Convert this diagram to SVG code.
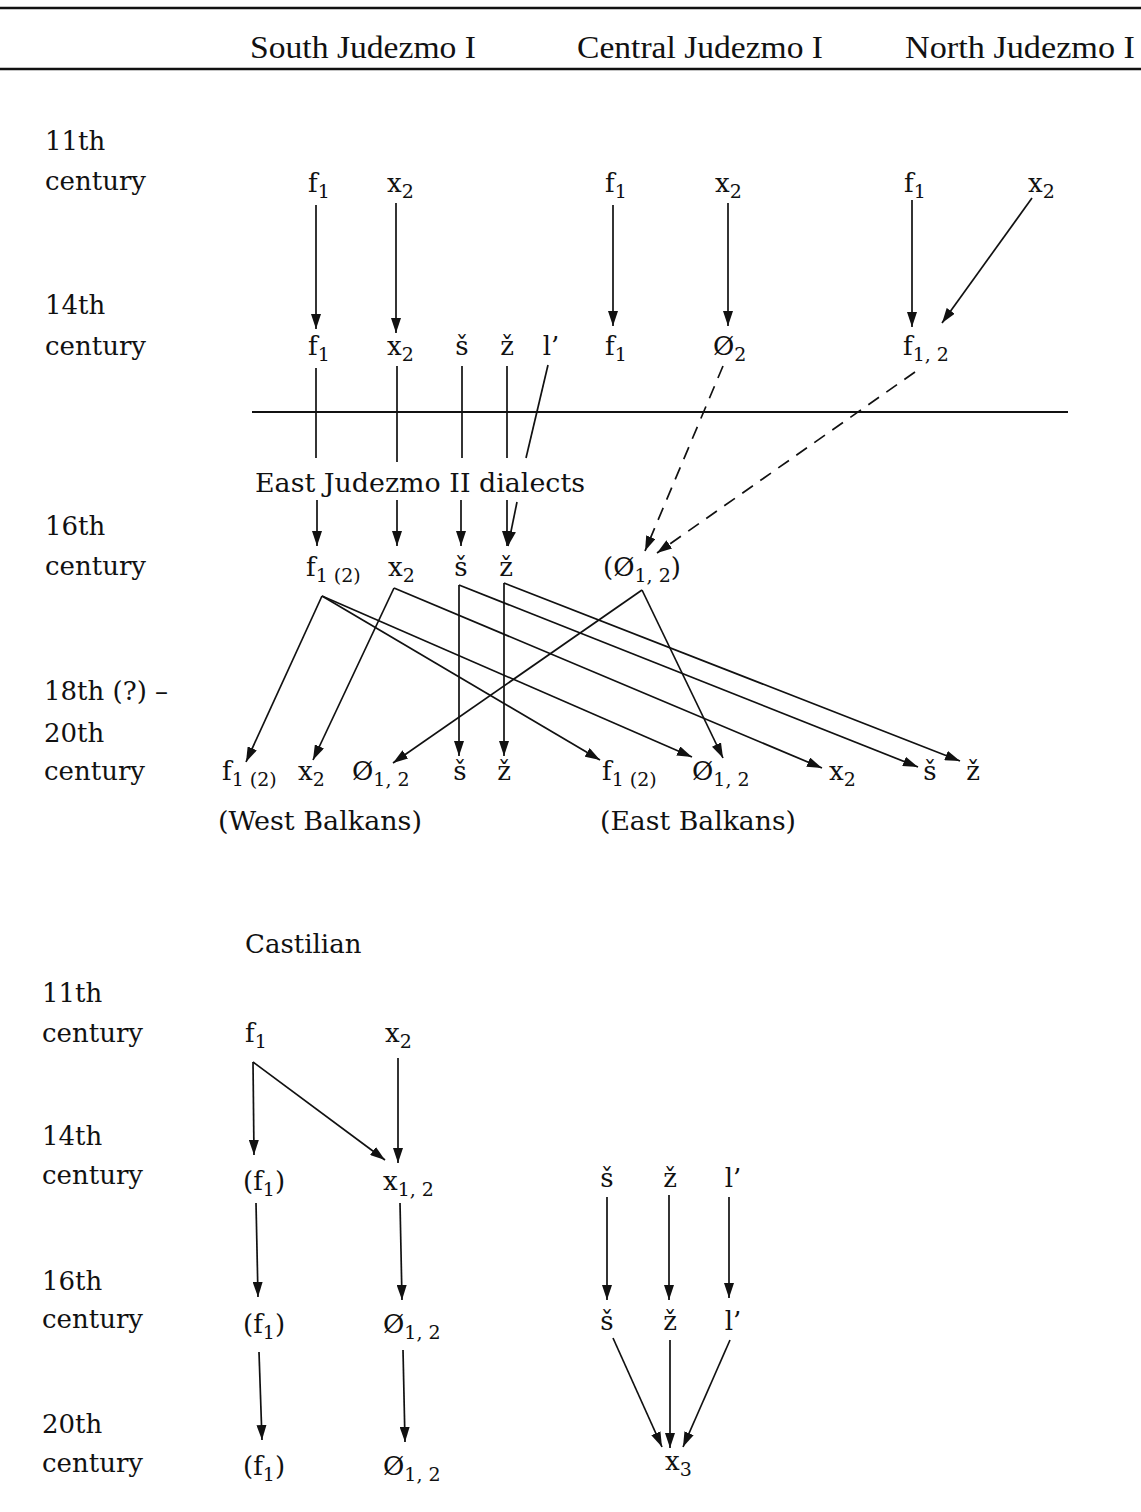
<svg xmlns="http://www.w3.org/2000/svg" width="1141" height="1512" viewBox="0 0 1141 1512">
<style>
.t{font-family:"DejaVu Serif","Liberation Serif",serif;font-size:26px;fill:#111}
.h{font-family:"Liberation Serif",serif;font-size:32px;fill:#111}
.s{font-size:19px}
.m{text-anchor:middle}
.c line{stroke:#111;stroke-width:1.7;fill:none}
.c .a{marker-end:url(#ah)}
.c .d{stroke-dasharray:13 9}
.rule{stroke:#111;stroke-width:2.5}
</style>
<defs>
<marker id="ah" markerUnits="userSpaceOnUse" markerWidth="15" markerHeight="10" refX="15" refY="5" orient="auto">
<path d="M0,0 L15,5 L0,10 z" fill="#111"/>
</marker>
</defs>
<rect width="1141" height="1512" fill="#fff"/>
<line class="rule" x1="0" y1="8" x2="1141" y2="8"/>
<line class="rule" x1="0" y1="69" x2="1141" y2="69"/>
<g id="headers">
<text class="h" x="250" y="58" textLength="226" lengthAdjust="spacingAndGlyphs">South Judezmo I</text>
<text class="h" x="577" y="58" textLength="246" lengthAdjust="spacingAndGlyphs">Central Judezmo I</text>
<text class="h" x="905" y="58" textLength="230" lengthAdjust="spacingAndGlyphs">North Judezmo I</text>
</g>
<g id="periods">
<text class="t" x="45" y="150">11th</text><text class="t" x="45" y="190">century</text>
<text class="t" x="45" y="314">14th</text><text class="t" x="45" y="355">century</text>
<text class="t" x="45" y="535">16th</text><text class="t" x="45" y="575">century</text>
<text class="t" x="44" y="700">18th (?) –</text><text class="t" x="44" y="742">20th</text><text class="t" x="44" y="780">century</text>
<text class="t" x="42" y="1002">11th</text><text class="t" x="42" y="1042">century</text>
<text class="t" x="42" y="1145">14th</text><text class="t" x="42" y="1184">century</text>
<text class="t" x="42" y="1290">16th</text><text class="t" x="42" y="1328">century</text>
<text class="t" x="42" y="1433">20th</text><text class="t" x="42" y="1472">century</text>
</g>
<line x1="252" y1="412" x2="1068" y2="412" stroke="#111" stroke-width="2"/>
<g class="c" id="connectors">
<line class="a" x1="316" y1="205" x2="316" y2="329"/>
<line class="a" x1="396" y1="203" x2="396" y2="333"/>
<line class="a" x1="613" y1="205" x2="613" y2="326"/>
<line class="a" x1="728" y1="203" x2="728" y2="326"/>
<line class="a" x1="912" y1="200" x2="912" y2="327"/>
<line class="a" x1="1032" y1="198" x2="942" y2="323"/>
<line x1="316" y1="368" x2="316" y2="458"/>
<line x1="397" y1="366" x2="397" y2="462"/>
<line x1="462" y1="366" x2="462" y2="458"/>
<line x1="507" y1="366" x2="507" y2="458"/>
<line x1="548" y1="365" x2="526" y2="458"/>
<line class="a d" x1="723" y1="366" x2="645" y2="551"/>
<line class="a d" x1="915" y1="372" x2="657" y2="553"/>
<line class="a" x1="317" y1="500" x2="317" y2="546"/>
<line class="a" x1="397" y1="500" x2="397" y2="546"/>
<line class="a" x1="461" y1="500" x2="461" y2="546"/>
<line class="a" x1="507" y1="500" x2="507" y2="546"/>
<line class="a" x1="517" y1="502" x2="508" y2="546"/>
<line class="a" x1="322" y1="596" x2="246" y2="762"/>
<line class="a" x1="322" y1="596" x2="600" y2="760"/>
<line class="a" x1="322" y1="596" x2="692" y2="757"/>
<line class="a" x1="394" y1="588" x2="313" y2="760"/>
<line class="a" x1="394" y1="588" x2="822" y2="768"/>
<line class="a" x1="459" y1="585" x2="459" y2="756"/>
<line class="a" x1="459" y1="585" x2="918" y2="767"/>
<line class="a" x1="504" y1="583" x2="504" y2="756"/>
<line class="a" x1="504" y1="583" x2="960" y2="761"/>
<line class="a" x1="642" y1="590" x2="393" y2="763"/>
<line class="a" x1="642" y1="590" x2="723" y2="758"/>
<line class="a" x1="253" y1="1062" x2="254" y2="1155"/>
<line class="a" x1="253" y1="1062" x2="385" y2="1160"/>
<line class="a" x1="398" y1="1058" x2="398" y2="1163"/>
<line class="a" x1="256" y1="1203" x2="258" y2="1297"/>
<line class="a" x1="400" y1="1203" x2="402" y2="1300"/>
<line class="a" x1="259" y1="1352" x2="262" y2="1440"/>
<line class="a" x1="403" y1="1350" x2="405" y2="1442"/>
<line class="a" x1="607" y1="1197" x2="607" y2="1300"/>
<line class="a" x1="669" y1="1195" x2="669" y2="1300"/>
<line class="a" x1="729" y1="1197" x2="729" y2="1298"/>
<line class="a" x1="613" y1="1338" x2="662" y2="1447"/>
<line class="a" x1="670" y1="1340" x2="670" y2="1448"/>
<line class="a" x1="730" y1="1340" x2="683" y2="1447"/>
</g>
<g id="n-s11-f"><text class="t" x="308" y="192">f<tspan class="s" dy="6">1</tspan></text></g>
<g id="n-s11-x"><text class="t" x="387" y="192">x<tspan class="s" dy="6">2</tspan></text></g>
<g id="n-c11-f"><text class="t" x="605" y="192">f<tspan class="s" dy="6">1</tspan></text></g>
<g id="n-c11-x"><text class="t" x="715" y="192">x<tspan class="s" dy="6">2</tspan></text></g>
<g id="n-n11-f"><text class="t" x="904" y="192">f<tspan class="s" dy="6">1</tspan></text></g>
<g id="n-n11-x"><text class="t" x="1028" y="192">x<tspan class="s" dy="6">2</tspan></text></g>
<g id="n-s14-f"><text class="t" x="308" y="355">f<tspan class="s" dy="6">1</tspan></text></g>
<g id="n-s14-x"><text class="t" x="387" y="355">x<tspan class="s" dy="6">2</tspan></text></g>
<g id="n-s14-sh"><text class="t m" x="462" y="355">š</text></g>
<g id="n-s14-zh"><text class="t m" x="507" y="355">ž</text></g>
<g id="n-s14-l"><text class="t m" x="551" y="355">l’</text></g>
<g id="n-c14-f"><text class="t" x="605" y="355">f<tspan class="s" dy="6">1</tspan></text></g>
<g id="n-c14-o"><text class="t" x="713" y="355">Ø<tspan class="s" dy="6">2</tspan></text></g>
<g id="n-n14-f"><text class="t" x="903" y="355">f<tspan class="s" dy="6">1, 2</tspan></text></g>
<g id="n-east2"><text class="t" x="255" y="492" textLength="330" lengthAdjust="spacingAndGlyphs">East Judezmo II dialects</text></g>
<g id="n-e16-f"><text class="t" x="306" y="576">f<tspan class="s" dy="6">1 (2)</tspan></text></g>
<g id="n-e16-x"><text class="t" x="388" y="576">x<tspan class="s" dy="6">2</tspan></text></g>
<g id="n-e16-sh"><text class="t m" x="461" y="576">š</text></g>
<g id="n-e16-zh"><text class="t m" x="506" y="576">ž</text></g>
<g id="n-e16-o"><text class="t" x="603" y="576">(Ø<tspan class="s" dy="6">1, 2</tspan><tspan dy="-6">)</tspan></text></g>
<g id="n-w20-f"><text class="t" x="222" y="780">f<tspan class="s" dy="6">1 (2)</tspan></text></g>
<g id="n-w20-x"><text class="t" x="298" y="780">x<tspan class="s" dy="6">2</tspan></text></g>
<g id="n-w20-o"><text class="t" x="352" y="780">Ø<tspan class="s" dy="6">1, 2</tspan></text></g>
<g id="n-w20-sh"><text class="t m" x="460" y="780">š</text></g>
<g id="n-w20-zh"><text class="t m" x="504" y="780">ž</text></g>
<g id="n-w20-lbl"><text class="t" x="218" y="830" textLength="204" lengthAdjust="spacingAndGlyphs">(West Balkans)</text></g>
<g id="n-e20-f"><text class="t" x="602" y="780">f<tspan class="s" dy="6">1 (2)</tspan></text></g>
<g id="n-e20-o"><text class="t" x="692" y="780">Ø<tspan class="s" dy="6">1, 2</tspan></text></g>
<g id="n-e20-x"><text class="t" x="829" y="780">x<tspan class="s" dy="6">2</tspan></text></g>
<g id="n-e20-sh"><text class="t m" x="930" y="780">š</text></g>
<g id="n-e20-zh"><text class="t m" x="973" y="780">ž</text></g>
<g id="n-e20-lbl"><text class="t" x="600" y="830" textLength="196" lengthAdjust="spacingAndGlyphs">(East Balkans)</text></g>
<g id="n-castilian"><text class="t" x="245" y="953">Castilian</text></g>
<g id="n-k11-f"><text class="t" x="245" y="1042">f<tspan class="s" dy="6">1</tspan></text></g>
<g id="n-k11-x"><text class="t" x="385" y="1042">x<tspan class="s" dy="6">2</tspan></text></g>
<g id="n-k14-f"><text class="t" x="243" y="1190">(f<tspan class="s" dy="6">1</tspan><tspan dy="-6">)</tspan></text></g>
<g id="n-k14-x"><text class="t" x="383" y="1190">x<tspan class="s" dy="6">1, 2</tspan></text></g>
<g id="n-k14-sh"><text class="t m" x="607" y="1187">š</text></g>
<g id="n-k14-zh"><text class="t m" x="670" y="1187">ž</text></g>
<g id="n-k14-l"><text class="t m" x="733" y="1187">l’</text></g>
<g id="n-k16-f"><text class="t" x="243" y="1333">(f<tspan class="s" dy="6">1</tspan><tspan dy="-6">)</tspan></text></g>
<g id="n-k16-o"><text class="t" x="383" y="1333">Ø<tspan class="s" dy="6">1, 2</tspan></text></g>
<g id="n-k16-sh"><text class="t m" x="607" y="1330">š</text></g>
<g id="n-k16-zh"><text class="t m" x="670" y="1330">ž</text></g>
<g id="n-k16-l"><text class="t m" x="733" y="1330">l’</text></g>
<g id="n-k20-f"><text class="t" x="243" y="1475">(f<tspan class="s" dy="6">1</tspan><tspan dy="-6">)</tspan></text></g>
<g id="n-k20-o"><text class="t" x="383" y="1475">Ø<tspan class="s" dy="6">1, 2</tspan></text></g>
<g id="n-k20-x3"><text class="t" x="665" y="1470">x<tspan class="s" dy="6">3</tspan></text></g>
</svg>
